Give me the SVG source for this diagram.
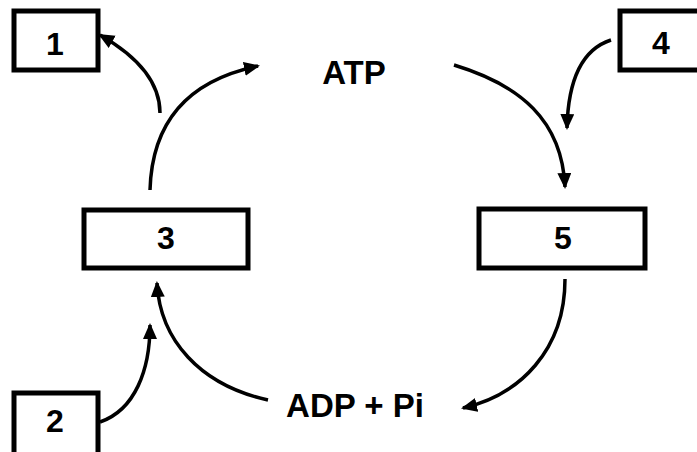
<svg xmlns="http://www.w3.org/2000/svg" width="697" height="452" viewBox="0 0 697 452">
<style>
.box{fill:#fff;stroke:#000;stroke-width:5}
.num{font-family:"Liberation Sans",Arial,sans-serif;font-weight:bold;font-size:32px;text-anchor:middle;fill:#000}
.lbl{font-family:"Liberation Sans",Arial,sans-serif;font-weight:bold;font-size:33px;text-anchor:middle;fill:#000}
.arr{fill:none;stroke:#000;stroke-width:3.5;marker-end:url(#ah)}
</style>
<defs>
<marker id="ah" markerUnits="userSpaceOnUse" markerWidth="18" markerHeight="16" refX="14" refY="7" orient="auto">
<path d="M0,0 L16,7 L0,14 z" fill="#000"/>
</marker>
</defs>
<rect width="697" height="452" fill="#fff"/>
<g id="connectors">
<path class="arr" d="M150,190 C152,120 190,80 258,66"/>
<path class="arr" d="M160,113 C160,80 135,55 100,35"/>
<path class="arr" d="M454,65 C520,85 562,120 565,187"/>
<path class="arr" d="M611,40 C580,50 568,85 567,128"/>
<path class="arr" d="M565,279 C565,350 520,395 463,408"/>
<path class="arr" d="M268,400 C200,385 160,340 157,283"/>
<path class="arr" d="M100,422 C135,410 150,370 150,325"/>
</g>
<g id="node1"><rect class="box" x="14" y="11" width="84" height="59"/><text class="num" x="55" y="55">1</text></g>
<g id="node4"><rect class="box" x="620" y="11" width="84" height="59"/><text class="num" x="661" y="54">4</text></g>
<g id="node3"><rect class="box" x="84" y="210" width="164" height="58"/><text class="num" x="166" y="249">3</text></g>
<g id="node5"><rect class="box" x="479" y="209" width="166" height="59"/><text class="num" x="563" y="249">5</text></g>
<g id="node2"><rect class="box" x="14" y="393" width="84" height="64"/><text class="num" x="55" y="432">2</text></g>
<g id="atp"><text class="lbl" x="354" y="84">ATP</text></g>
<g id="adp"><text class="lbl" x="355" y="417">ADP + Pi</text></g>
</svg>
